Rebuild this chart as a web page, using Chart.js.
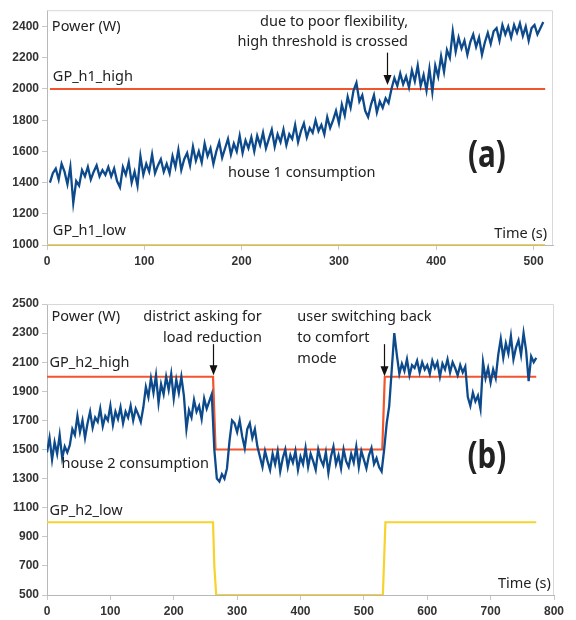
<!DOCTYPE html>
<html>
<head>
<meta charset="utf-8">
<script src="https://cdn.jsdelivr.net/npm/chart.js@4.4.1/dist/chart.umd.min.js"></script>
<style>
  body { margin: 0; background: #fff; }
  canvas { position: absolute; left: 0; }
  #chartA { top: 0; }
  #chartB { top: 270px; }
</style>
</head>
<body>
<canvas id="chartA" width="576" height="270"></canvas>
<canvas id="chartB" width="576" height="350"></canvas>
<script>
// ---- (a) house 1 ----
const h1Start = 3, h1Step = 3;       // sampling of house 1 trace (s)
const house1 = [
  1400, 1460, 1490, 1420, 1520, 1470, 1390, 1500, 1270, 1410,
  1380, 1480, 1440, 1500, 1420, 1470, 1510, 1440, 1480, 1450,
  1500, 1440, 1490, 1410, 1370, 1500, 1450, 1530, 1400, 1470,
  1380, 1570, 1450, 1520, 1470, 1580, 1460, 1510, 1550, 1470,
  1520, 1460, 1570, 1500, 1610, 1480, 1550, 1590, 1510, 1630,
  1540, 1600, 1530, 1650, 1570, 1620, 1520, 1600, 1660, 1560,
  1620, 1680, 1580, 1650, 1600, 1700, 1590, 1670, 1620, 1690,
  1600, 1700, 1640, 1720, 1620, 1680, 1740, 1630, 1710, 1660,
  1740, 1640, 1710, 1680, 1770, 1660, 1730, 1780, 1690, 1750,
  1720, 1800, 1730, 1770, 1710, 1820, 1750, 1800, 1860, 1780,
  1900, 1830, 1950, 1880, 1990, 2040, 1920, 1960, 1860, 1820,
  1900, 1960, 1850, 1920, 1880, 1940, 1910, 2000, 2070, 2020,
  2100, 2030, 2080, 2010, 2120, 2050, 2150, 2020, 2090, 1990,
  2130, 1980, 2150, 2080, 2210, 2110, 2250, 2200, 2370, 2240,
  2330, 2260, 2310, 2220, 2300, 2350, 2270, 2330, 2220, 2300,
  2360, 2290, 2370, 2390, 2310, 2410, 2350, 2400, 2330, 2410,
  2360, 2420, 2340, 2400, 2310, 2390, 2410, 2350, 2390, 2430
];
const gpH1HighT = [3, 512];
const gpH1HighV = [2000, 2000];
const gpH1LowT = [0, 512];
const gpH1LowV = [1000, 1000];
const xTicksA = [0, 100, 200, 300, 400, 500];
const yTicksA = [1000, 1200, 1400, 1600, 1800, 2000, 2200, 2400];

// ---- (b) house 2 ----
const h2Start = 0, h2Step = 4;
const house2 = [
  1480, 1580, 1430, 1550, 1470, 1600, 1440, 1520, 1480, 1530,
  1640, 1600, 1730, 1620, 1700, 1580, 1680, 1760, 1650, 1720,
  1690, 1780, 1660, 1730, 1700, 1800, 1670, 1760, 1710, 1790,
  1680, 1760, 1720, 1800, 1700, 1780, 1740, 1690, 1790, 1930,
  1860, 1990, 1890, 2010, 1820, 1950, 1880, 2000, 1910, 2020,
  1850, 1980, 1890, 2000, 1870, 1640, 1770, 1720, 1840, 1760,
  1800, 1710, 1850, 1780, 1830, 1880, 1500, 1300, 1280, 1330,
  1300, 1370, 1560, 1700, 1680, 1620, 1700, 1590, 1510, 1640,
  1680, 1580, 1640, 1520, 1450, 1380, 1490, 1420, 1360, 1470,
  1400, 1490, 1350, 1440, 1500, 1380, 1460, 1410, 1490, 1360,
  1450, 1400, 1510, 1380, 1470, 1420, 1360, 1500, 1430, 1390,
  1480, 1340, 1450, 1520, 1400, 1460, 1370, 1500, 1420, 1380,
  1470, 1410, 1520, 1380, 1490, 1430, 1370, 1460, 1510, 1400,
  1440, 1380, 1350, 1500, 1680, 1800, 2050, 2300, 2150, 2020,
  2090, 2040, 2120, 2010, 2080, 2060, 2110, 2030, 2100, 2050,
  2080, 2020, 2110, 2060, 2100, 2000, 2090, 2050, 2120, 2030,
  2100, 2060, 2010, 2080, 2030, 2070, 1860, 1800, 1890, 1830,
  1870, 1780, 2100, 1990, 2060, 1960, 2050, 1990, 2150, 2260,
  2130, 2230, 2160, 2280, 2120, 2200, 2250, 2150, 2300, 2180,
  1970, 2140, 2100, 2130
];
const gpH2HighT = [0, 262, 266, 529, 533, 772];
const gpH2HighV = [2000, 2000, 1500, 1500, 2000, 2000];
const gpH2LowT = [0, 262, 264, 267, 530, 534, 772];
const gpH2LowV = [1000, 1000, 700, 500, 500, 1000, 1000];
const xTicksB = [0, 100, 200, 300, 400, 500, 600, 700, 800];
const yTicksB = [500, 700, 900, 1100, 1300, 1500, 1700, 1900, 2100, 2300, 2500];

// couleurs / polices
const BLUE = '#0d4a8c';
const RED = '#f2552c';
const YELLOW = '#f6d32d';
const TXT = '#222';
const LABEL_FONT = "14.5px 'Noto Sans', sans-serif";
const TICK_FONT = { family: "'Liberation Sans', sans-serif", size: 12, weight: 'bold' };
const BIG_FONT = "bold 38px 'Noto Sans', sans-serif";

function toPoints(ts, vs) {
  return ts.map((t, i) => ({ x: t, y: vs[i] }));
}
function sampled(start, step, vs) {
  return vs.map((v, i) => ({ x: start + step * i, y: v }));
}

// textes et flèches, placés en coordonnées de données
const notesA = {
  texts: [
    { text: 'Power (W)', x: 5, y: 2400, align: 'left' },
    { text: 'GP_h1_high', x: 6, y: 2080, align: 'left' },
    { text: 'GP_h1_low', x: 6, y: 1089, align: 'left' },
    { text: 'due to poor flexibility,', x: 371, y: 2429, align: 'right' },
    { text: 'high threshold is crossed', x: 371, y: 2303, align: 'right' },
    { text: 'house 1 consumption', x: 186, y: 1460, align: 'left' },
    { text: '(a)', x: 452, y: 1569, align: 'center', font: BIG_FONT, squeeze: 0.78 },
    { text: 'Time (s)', x: 514, y: 1073, align: 'right' }
  ],
  arrows: [{ x: 349, y0: 2233, y1: 2025 }]
};
const notesB = {
  texts: [
    { text: 'Power (W)', x: 7, y: 2410, align: 'left' },
    { text: 'district asking for', x: 339, y: 2410, align: 'right' },
    { text: 'load reduction', x: 339, y: 2269, align: 'right' },
    { text: 'GP_h2_high', x: 4, y: 2093, align: 'left' },
    { text: 'house 2 consumption', x: 23, y: 1403, align: 'left' },
    { text: 'GP_h2_low', x: 4, y: 1079, align: 'left' },
    { text: 'user switching back', x: 395, y: 2410, align: 'left' },
    { text: 'to comfort', x: 395, y: 2266, align: 'left' },
    { text: 'mode', x: 395, y: 2121, align: 'left' },
    { text: '(b)', x: 694, y: 1445, align: 'center', font: BIG_FONT, squeeze: 0.78 },
    { text: 'Time (s)', x: 795, y: 576, align: 'right' }
  ],
  arrows: [{ x: 262, y0: 2224, y1: 2010 }, { x: 531, y0: 2224, y1: 2003 }]
};

const notesPlugin = {
  id: 'notes',
  afterDatasetsDraw(chart, args, opts) {
    const { ctx, chartArea: a, scales } = chart;
    const xs = scales.x, ys = scales.y;
    ctx.save();
    // cadre gris clair haut / droite
    ctx.strokeStyle = '#d8d8d8';
    ctx.lineWidth = 1;
    ctx.beginPath();
    ctx.moveTo(a.left, a.top + 0.5);
    ctx.lineTo(a.right - 0.5, a.top + 0.5);
    ctx.lineTo(a.right - 0.5, a.bottom);
    ctx.stroke();

    ctx.fillStyle = TXT;
    ctx.textBaseline = 'middle';
    (opts.texts || []).forEach(n => {
      const px = xs.getPixelForValue(n.x);
      const py = ys.getPixelForValue(n.y);
      ctx.font = n.font || LABEL_FONT;
      ctx.textAlign = n.align;
      if (n.squeeze) {
        // police condensée simulée
        ctx.save();
        ctx.translate(px, py);
        ctx.scale(n.squeeze, 1);
        ctx.fillText(n.text, 0, 0);
        ctx.restore();
      } else {
        ctx.fillText(n.text, px, py);
      }
    });

    ctx.strokeStyle = '#111';
    ctx.fillStyle = '#111';
    ctx.lineWidth = 1.2;
    (opts.arrows || []).forEach(ar => {
      const px = Math.round(xs.getPixelForValue(ar.x)) + 0.5;
      const p0 = ys.getPixelForValue(ar.y0);
      const p1 = ys.getPixelForValue(ar.y1);
      ctx.beginPath();
      ctx.moveTo(px, p0);
      ctx.lineTo(px, p1 - 8);
      ctx.stroke();
      ctx.beginPath();
      ctx.moveTo(px - 4, p1 - 10);
      ctx.lineTo(px + 4, p1 - 10);
      ctx.lineTo(px, p1);
      ctx.closePath();
      ctx.fill();
    });
    ctx.restore();
  }
};

function makeChart(id, cfg) {
  const axisGrid = { display: true, drawOnChartArea: false, drawTicks: true, tickLength: 5, color: '#c8c8c8' };
  return new Chart(document.getElementById(id), {
    type: 'line',
    data: {
      datasets: [
        { data: cfg.house, borderColor: BLUE, borderWidth: 2.3, pointRadius: 0, tension: 0 },
        { data: cfg.high, borderColor: RED, borderWidth: 2.2, pointRadius: 0, tension: 0 },
        { data: cfg.low, borderColor: YELLOW, borderWidth: 2.2, pointRadius: 0, tension: 0 }
      ]
    },
    options: {
      responsive: false,
      animation: false,
      events: [],
      layout: { padding: cfg.padding },
      plugins: {
        legend: { display: false },
        tooltip: { enabled: false },
        notes: cfg.notes
      },
      scales: {
        x: {
          type: 'linear',
          min: 0,
          max: cfg.xMax,
          afterBuildTicks: axis => { axis.ticks = cfg.xTicks.map(v => ({ value: v })); },
          afterFit: axis => { axis.height = cfg.xHeight; },
          grid: axisGrid,
          border: { color: '#b8b8b8', width: 1 },
          ticks: { font: TICK_FONT, color: '#333', padding: 4, maxRotation: 0, callback: v => String(v) }
        },
        y: {
          min: cfg.yMin,
          max: cfg.yMax,
          afterBuildTicks: axis => { axis.ticks = cfg.yTicks.map(v => ({ value: v })); },
          afterFit: axis => { axis.width = 47; },
          grid: axisGrid,
          border: { color: '#b8b8b8', width: 1 },
          ticks: { font: TICK_FONT, color: '#333', padding: 3, callback: v => String(v) }
        }
      }
    },
    plugins: [notesPlugin]
  });
}

makeChart('chartA', {
  house: sampled(h1Start, h1Step, house1),
  high: toPoints(gpH1HighT, gpH1HighV),
  low: toPoints(gpH1LowT, gpH1LowV),
  xMax: 520, yMin: 1000, yMax: 2505,
  xTicks: xTicksA, yTicks: yTicksA,
  padding: { top: 7, right: 23, left: 0, bottom: 0 },
  xHeight: 25,
  notes: notesA
});

makeChart('chartB', {
  house: sampled(h2Start, h2Step, house2),
  high: toPoints(gpH2HighT, gpH2HighV),
  low: toPoints(gpH2LowT, gpH2LowV),
  xMax: 800, yMin: 500, yMax: 2500,
  xTicks: xTicksB, yTicks: yTicksB,
  padding: { top: 34, right: 22, left: 0, bottom: 0 },
  xHeight: 25,
  notes: notesB
});
</script>
</body>
</html>
